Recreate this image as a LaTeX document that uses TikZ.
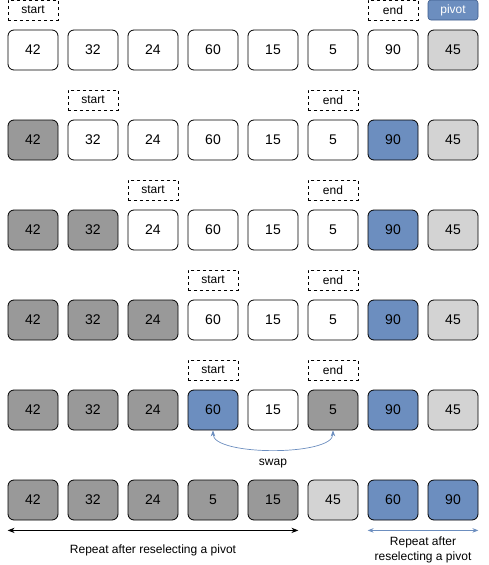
\documentclass[tikz,border=0pt]{standalone}
\usepackage{fontspec}
\setmainfont{Liberation Sans}
\usetikzlibrary{arrows.meta}
\definecolor{donegray}{HTML}{999999}
\definecolor{pivgray}{HTML}{D3D3D3}
\definecolor{pivblue}{HTML}{6C8EBF}
\definecolor{pivedge}{HTML}{3B5A8A}
\tikzset{
  cell/.style={draw, line width=0.8pt, rounded corners=6pt, minimum width=50pt,
    minimum height=40pt, inner sep=0pt, font=\fontsize{14}{16}\selectfont},
  open/.style={fill=white},
  done/.style={fill=donegray},
  fixed/.style={fill=pivgray},
  piv/.style={fill=pivblue},
  tag/.style={draw, dashed, line width=0.6pt, minimum width=50pt, minimum height=20pt,
    inner sep=0pt, font=\fontsize{12}{14}\selectfont},
  pivtag/.style={draw=pivedge, fill=pivblue, text=white, rounded corners=3pt, line width=0.6pt,
    minimum width=50pt, minimum height=20pt, inner sep=0pt, font=\fontsize{12}{14}\selectfont},
  note/.style={font=\fontsize{12}{15}\selectfont, align=center}
}
\begin{document}
\begin{tikzpicture}[x=1pt, y=-1pt]
      \useasboundingbox (0,0) rectangle (488,565);
      % rows of the array, one per step
      \foreach \v/\s [count=\i] in {42/open,32/open,24/open,60/open,15/open,5/open,90/open,45/fixed}
        \node[cell, \s] (r1c\i) at (-27+60*\i, 50) {\v};
      \foreach \v/\s [count=\i] in {42/done,32/open,24/open,60/open,15/open,5/open,90/piv,45/fixed}
        \node[cell, \s] (r2c\i) at (-27+60*\i, 140) {\v};
      \foreach \v/\s [count=\i] in {42/done,32/done,24/open,60/open,15/open,5/open,90/piv,45/fixed}
        \node[cell, \s] (r3c\i) at (-27+60*\i, 230) {\v};
      \foreach \v/\s [count=\i] in {42/done,32/done,24/done,60/open,15/open,5/open,90/piv,45/fixed}
        \node[cell, \s] (r4c\i) at (-27+60*\i, 320) {\v};
      \foreach \v/\s [count=\i] in {42/done,32/done,24/done,60/piv,15/open,5/done,90/piv,45/fixed}
        \node[cell, \s] (r5c\i) at (-27+60*\i, 410) {\v};
      \foreach \v/\s [count=\i] in {42/done,32/done,24/done,5/done,15/done,45/fixed,60/piv,90/piv}
        \node[cell, \s] (r6c\i) at (-27+60*\i, 500) {\v};

      % start / end markers
      \node[tag]    (s1) at ( 33, 10) {start};
      \node[tag]    (e1) at (393, 10) {end};
      \node[pivtag] (p1) at (453, 10) {pivot};
      \node[tag]    (s2) at ( 93,100) {start};
      \node[tag]    (e2) at (333,100) {end};
      \node[tag]    (s3) at (153,190) {start};
      \node[tag]    (e3) at (333,190) {end};
      \node[tag]    (s4) at (213,280) {start};
      \node[tag]    (e4) at (333,280) {end};
      \node[tag]    (s5) at (213,370) {start};
      \node[tag]    (e5) at (333,370) {end};

      % swap
      \draw[pivblue, line width=0.7pt, {Stealth[length=6pt]}-{Stealth[length=6pt]}]
        (r5c4.south) to[out=-90, in=-90, looseness=0.55] (r5c6.south);
      \node[note] (swap) at (273,464) {swap};

      % recursion ranges
      \draw[line width=0.7pt, {Stealth[length=7pt]}-{Stealth[length=7pt]}]
        ([yshift=-10pt]r6c1.south west) -- ([yshift=-10pt]r6c5.south east);
      \node[note] (left) at (153,550) {Repeat after reselecting a pivot};
      \draw[pivblue, line width=0.7pt, {Stealth[length=6pt]}-{Stealth[length=6pt]}]
        ([yshift=-10pt]r6c7.south west) -- ([yshift=-10pt]r6c8.south east);
      \node[note] (right) at (423,550) {Repeat after\\reselecting a pivot};
\end{tikzpicture}
\end{document}
